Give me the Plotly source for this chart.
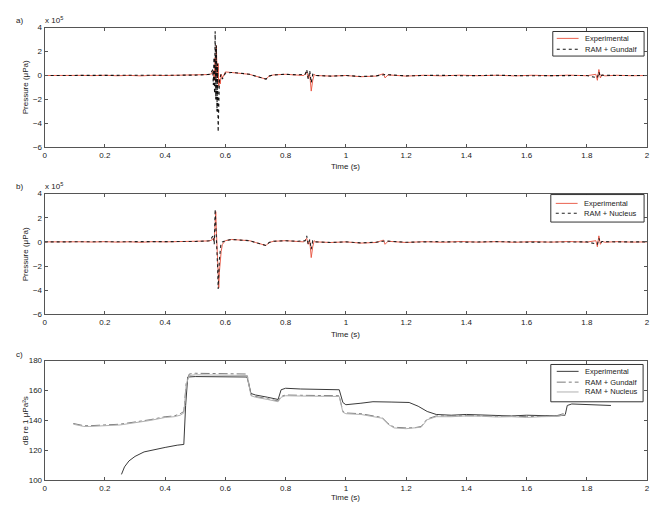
import plotly.graph_objects as go

# ---------------- data ----------------
# Panel a/b time-series (pressure in units of 1e5 uPa)
t_exp_a = [0.00, 0.04, 0.08, 0.12, 0.16, 0.20, 0.24, 0.28, 0.32, 0.36, 0.40, 0.44, 0.48, 0.52, 0.545,
           0.555, 0.560, 0.563, 0.566, 0.568, 0.570, 0.572, 0.574, 0.576, 0.578, 0.580, 0.583, 0.586,
           0.590, 0.600, 0.620, 0.650, 0.680, 0.700, 0.720, 0.735, 0.745, 0.760, 0.800, 0.840, 0.860,
           0.870, 0.875, 0.880, 0.885, 0.890, 0.895, 0.900, 0.950, 1.000, 1.050, 1.100, 1.125, 1.130,
           1.140, 1.200, 1.260, 1.320, 1.380, 1.440, 1.500, 1.560, 1.620, 1.680, 1.740, 1.800, 1.830,
           1.835, 1.840, 1.845, 1.850, 1.860, 1.900, 1.950, 2.000]
p_exp_a = [0.00, 0.02, -0.02, 0.01, -0.01, 0.02, -0.02, 0.01, -0.03, 0.02, 0.00, 0.03, 0.04, 0.05, 0.08,
           0.15, 0.40, -0.40, 1.50, -0.30, 2.50, 0.60, -0.20, 1.00, -0.90, -0.30, -0.70, 0.10,
           -0.20, 0.30, 0.25, 0.20, 0.10, -0.05, -0.20, -0.30, -0.05, 0.05, 0.10, 0.05, 0.00,
           0.30, -0.20, 0.10, -1.30, -0.40, 0.10, 0.00, -0.05, 0.00, -0.10, -0.05, 0.15, -0.20,
           0.05, -0.05, 0.02, -0.03, 0.03, -0.02, 0.02, -0.03, 0.02, -0.02, 0.03, -0.02, 0.10,
           -0.40, 0.50, -0.20, 0.05, -0.03, 0.02, -0.02, 0.00]

t_gun = [0.00, 0.05, 0.10, 0.15, 0.20, 0.25, 0.30, 0.35, 0.40, 0.45, 0.50, 0.54, 0.550, 0.556, 0.558,
         0.560, 0.562, 0.564, 0.566, 0.568, 0.570, 0.572, 0.574, 0.576, 0.578, 0.580, 0.585, 0.590,
         0.600, 0.620, 0.650, 0.680, 0.700, 0.720, 0.735, 0.745, 0.760, 0.800, 0.840, 0.865, 0.870,
         0.875, 0.880, 0.885, 0.890, 0.900, 0.950, 1.000, 1.050, 1.100, 1.130, 1.200, 1.300, 1.400,
         1.500, 1.600, 1.700, 1.800, 1.835, 1.840, 1.845, 1.850, 1.900, 2.000]
p_gun = [0.00, 0.00, 0.01, 0.00, -0.01, 0.00, 0.01, 0.00, 0.01, 0.02, 0.03, 0.08, 0.10, 0.40, 0.50,
         -0.80, 1.50, -1.50, 3.70, -2.00, 2.50, -3.00, 1.00, -4.70, -2.50, -0.50, 0.10, -0.30,
         0.20, 0.25, 0.20, 0.10, -0.05, -0.20, -0.30, -0.05, 0.05, 0.10, 0.05, 0.10, 0.50,
         -0.30, 0.40, -0.60, 0.10, 0.00, -0.05, 0.00, -0.08, -0.03, 0.08, -0.03, 0.02, -0.02,
         0.02, -0.02, 0.02, 0.00, -0.20, 0.30, -0.10, 0.03, 0.00, 0.00]

t_exp_b = [0.00, 0.04, 0.08, 0.12, 0.16, 0.20, 0.24, 0.28, 0.32, 0.36, 0.40, 0.44, 0.48, 0.52, 0.545,
           0.555, 0.560, 0.563, 0.566, 0.568, 0.570, 0.572, 0.575, 0.578, 0.580, 0.583, 0.586, 0.590,
           0.600, 0.620, 0.650, 0.680, 0.700, 0.720, 0.735, 0.745, 0.760, 0.800, 0.840, 0.860, 0.870,
           0.875, 0.880, 0.885, 0.890, 0.895, 0.900, 0.950, 1.000, 1.050, 1.100, 1.125, 1.130, 1.140,
           1.200, 1.260, 1.320, 1.380, 1.440, 1.500, 1.560, 1.620, 1.680, 1.740, 1.800, 1.830, 1.835,
           1.840, 1.845, 1.850, 1.860, 1.900, 1.950, 2.000]
p_exp_b = [0.00, 0.02, -0.02, 0.01, -0.01, 0.02, -0.02, 0.01, -0.03, 0.02, 0.00, 0.03, 0.04, 0.05, 0.08,
           0.15, 0.30, 0.10, 1.50, 2.50, 1.00, -0.50, -2.50, -3.80, -2.50, -1.50, -0.80, -0.20,
           0.10, 0.20, 0.15, 0.10, -0.05, -0.20, -0.30, -0.05, 0.05, 0.10, 0.05, 0.00, 0.30,
           -0.20, 0.10, -1.30, -0.40, 0.10, 0.00, -0.05, 0.00, -0.10, -0.05, 0.15, -0.20, 0.05,
           -0.05, 0.02, -0.03, 0.03, -0.02, 0.02, -0.03, 0.02, -0.02, 0.03, -0.02, 0.10, -0.40,
           0.50, -0.20, 0.05, -0.03, 0.02, -0.02, 0.00]

t_nuc = [0.00, 0.05, 0.10, 0.15, 0.20, 0.25, 0.30, 0.35, 0.40, 0.45, 0.50, 0.54, 0.550, 0.556, 0.560,
         0.563, 0.566, 0.568, 0.570, 0.572, 0.574, 0.576, 0.578, 0.580, 0.585, 0.590, 0.600, 0.620,
         0.650, 0.680, 0.700, 0.720, 0.735, 0.745, 0.760, 0.800, 0.840, 0.865, 0.870, 0.875, 0.880,
         0.885, 0.890, 0.900, 0.950, 1.000, 1.050, 1.100, 1.130, 1.200, 1.300, 1.400, 1.500, 1.600,
         1.700, 1.800, 1.835, 1.840, 1.845, 1.850, 1.900, 2.000]
p_nuc = [0.00, 0.00, 0.01, 0.00, -0.01, 0.00, 0.01, 0.00, 0.01, 0.02, 0.03, 0.08, 0.10, 0.40, 0.50,
         -0.20, 2.70, 1.50, 0.50, -1.00, -2.00, -3.90, -2.80, -1.50, -0.20, 0.00, 0.10, 0.20,
         0.15, 0.10, -0.05, -0.20, -0.30, -0.05, 0.05, 0.10, 0.05, 0.10, 0.50, -0.20, 0.20,
         -0.60, 0.10, 0.00, -0.05, 0.00, -0.08, -0.03, 0.08, -0.03, 0.02, -0.02, 0.02, -0.02,
         0.02, 0.00, -0.20, 0.30, -0.10, 0.03, 0.00, 0.00]

# Panel c: sound exposure level (dB re 1 uPa^2 s)
t_sel_exp = [0.255, 0.265, 0.28, 0.30, 0.33, 0.36, 0.40, 0.44, 0.462, 0.468, 0.475, 0.50, 0.55, 0.60,
             0.65, 0.672, 0.685, 0.70, 0.74, 0.775, 0.785, 0.80, 0.85, 0.90, 0.95, 0.978, 0.99,
             1.00, 1.05, 1.09, 1.15, 1.21, 1.24, 1.27, 1.30, 1.35, 1.40, 1.45, 1.50, 1.55, 1.60,
             1.65, 1.70, 1.728, 1.735, 1.75, 1.80, 1.85, 1.88]
db_exp = [104.0, 109.0, 113.0, 116.0, 119.0, 120.5, 122.0, 123.5, 124.0, 150.0, 169.0, 169.3, 169.3, 169.3,
          169.3, 169.0, 158.0, 157.0, 155.5, 154.0, 160.5, 161.5, 161.0, 160.8, 160.7, 160.5, 152.0,
          150.5, 151.5, 152.5, 152.3, 152.0, 149.5, 146.0, 144.0, 143.5, 144.0, 143.8, 143.5, 143.0, 143.5,
          143.2, 143.0, 143.5, 150.0, 151.0, 150.8, 150.5, 150.0]

t_sel_gun = [0.095, 0.11, 0.13, 0.15, 0.20, 0.25, 0.30, 0.35, 0.40, 0.43, 0.45, 0.462, 0.47, 0.48, 0.50,
             0.55, 0.60, 0.65, 0.672, 0.685, 0.70, 0.74, 0.775, 0.785, 0.80, 0.85, 0.90, 0.95, 0.978,
             0.99, 1.00, 1.05, 1.09, 1.12, 1.14, 1.16, 1.20, 1.23, 1.25, 1.27, 1.30, 1.35, 1.40,
             1.45, 1.50, 1.55, 1.60, 1.65, 1.70, 1.73]
db_gun = [138.0, 137.5, 136.5, 136.5, 137.0, 137.5, 139.0, 140.5, 142.5, 143.0, 144.5, 146.0, 165.0, 171.0, 171.5,
          171.5, 171.5, 171.3, 171.0, 157.0, 156.0, 154.5, 153.0, 156.0, 157.0, 156.8, 156.5, 156.5, 156.5,
          146.0, 145.0, 144.5, 143.0, 142.0, 138.0, 135.5, 135.0, 135.2, 136.0, 141.0, 143.0, 143.0, 143.5,
          143.2, 142.8, 143.0, 142.5, 143.0, 143.2, 145.0]

t_sel_nuc = [0.095, 0.11, 0.13, 0.15, 0.20, 0.25, 0.30, 0.35, 0.40, 0.43, 0.45, 0.462, 0.47, 0.48, 0.50,
             0.55, 0.60, 0.65, 0.672, 0.685, 0.70, 0.74, 0.775, 0.785, 0.80, 0.85, 0.90, 0.95, 0.978,
             0.99, 1.00, 1.05, 1.09, 1.12, 1.14, 1.16, 1.20, 1.23, 1.25, 1.27, 1.30, 1.35, 1.40,
             1.45, 1.50, 1.55, 1.60, 1.65, 1.70, 1.73]
db_nuc = [137.5, 137.0, 136.0, 136.0, 136.5, 137.0, 138.5, 140.0, 142.0, 142.5, 143.5, 145.0, 164.0, 170.0, 170.5,
          170.5, 170.5, 170.3, 170.0, 156.5, 155.5, 154.0, 152.5, 155.5, 156.5, 156.3, 156.0, 156.0, 156.0,
          145.5, 144.5, 144.0, 142.5, 141.5, 137.5, 135.0, 134.5, 134.8, 135.5, 140.5, 142.5, 142.5, 143.0,
          142.8, 142.3, 142.5, 142.0, 142.5, 142.7, 144.0]

x_ticks = [0, 0.2, 0.4, 0.6, 0.8, 1, 1.2, 1.4, 1.6, 1.8, 2]
x_tick_text = ["0", "0.2", "0.4", "0.6", "0.8", "1", "1.2", "1.4", "1.6", "1.8", "2"]
p_ticks = [-6, -4, -2, 0, 2, 4]
db_ticks = [100, 120, 140, 160, 180]

legend_a = ["Experimental", "RAM + Gundalf"]
legend_b = ["Experimental", "RAM + Nucleus"]
legend_c = ["Experimental", "RAM + Gundalf", "RAM + Nucleus"]

# ---------------- figure ----------------
W, H = 659, 506
FONT = "Liberation Sans, Arial, sans-serif"
RED = "#e8503c"
AXC = "#555555"
C_EXP = "#3a3a3a"
C_GUN = "#7a7a7a"
C_NUC = "#b0b0b0"


def py(px):
    return 1 - px / H


def px_x(px):
    return px / W


xdom = [px_x(43), px_x(650)]
ydoms = [[py(146), py(24)], [py(316), py(193)], [py(485), py(363)]]

fig = go.Figure()

sty_exp_ab = dict(color=RED, width=0.9)
sty_gun_ab = dict(color="#111111", width=1.1, dash="dot")
sty_nuc_ab = dict(color="#222222", width=1.1, dash="dot")
sty_exp_c = dict(color=C_EXP, width=1)
sty_gun_c = dict(color=C_GUN, width=1, dash="dashdot")
sty_nuc_c = dict(color=C_NUC, width=1)

fig.add_trace(go.Scatter(x=t_exp_a, y=p_exp_a, mode="lines", name=legend_a[0],
                         line=sty_exp_ab, xaxis="x", yaxis="y"))
fig.add_trace(go.Scatter(x=t_gun, y=p_gun, mode="lines", name=legend_a[1],
                         line=sty_gun_ab, xaxis="x", yaxis="y"))
fig.add_trace(go.Scatter(x=t_exp_b, y=p_exp_b, mode="lines", name=legend_b[0],
                         line=sty_exp_ab, xaxis="x2", yaxis="y2"))
fig.add_trace(go.Scatter(x=t_nuc, y=p_nuc, mode="lines", name=legend_b[1],
                         line=sty_nuc_ab, xaxis="x2", yaxis="y2"))
fig.add_trace(go.Scatter(x=t_sel_exp, y=db_exp, mode="lines", name=legend_c[0],
                         line=sty_exp_c, xaxis="x3", yaxis="y3"))
fig.add_trace(go.Scatter(x=t_sel_gun, y=db_gun, mode="lines", name=legend_c[1],
                         line=sty_gun_c, xaxis="x3", yaxis="y3"))
fig.add_trace(go.Scatter(x=t_sel_nuc, y=db_nuc, mode="lines", name=legend_c[2],
                         line=sty_nuc_c, xaxis="x3", yaxis="y3"))

axis_common = dict(showline=True, linecolor=AXC, linewidth=1, mirror="ticks", ticks="inside",
                   ticklen=3, tickcolor=AXC, showgrid=False, zeroline=False,
                   tickfont=dict(family=FONT, size=8, color="#222"))

for i in range(3):
    sfx = "" if i == 0 else str(i + 1)
    fig.update_layout(**{
        "xaxis" + sfx: dict(axis_common, domain=xdom, range=[0, 2], tickvals=x_ticks,
                            ticktext=x_tick_text, anchor="y" + sfx),
    })
    if i < 2:
        fig.update_layout(**{"yaxis" + sfx: dict(axis_common, domain=ydoms[i], range=[-6, 4],
                                                 tickvals=p_ticks, anchor="x" + sfx)})
    else:
        fig.update_layout(**{"yaxis" + sfx: dict(axis_common, domain=ydoms[i], range=[100, 180],
                                                 tickvals=db_ticks, anchor="x" + sfx)})

fig.update_layout(showlegend=False, width=W, height=H,
                  margin=dict(l=0, r=0, t=0, b=0),
                  paper_bgcolor="white", plot_bgcolor="white")

ann = []
shapes = []


def A(x, y, text, angle=0, size=8, xanchor="center"):
    ann.append(dict(x=px_x(x), y=py(y), xref="paper", yref="paper", text=text, showarrow=False,
                    textangle=angle, xanchor=xanchor, yanchor="middle",
                    font=dict(family=FONT, size=size, color="#222")))


def legend_box(x0, y0, x1, y1, names, styles, rows, lx0, lx1, tx):
    shapes.append(dict(type="rect", xref="paper", yref="paper", x0=px_x(x0), x1=px_x(x1),
                       y0=py(y1), y1=py(y0), line=dict(color="#333", width=1), fillcolor="white",
                       layer="above"))
    for name, sty, ry in zip(names, styles, rows):
        shapes.append(dict(type="line", xref="paper", yref="paper", x0=px_x(lx0), x1=px_x(lx1),
                           y0=py(ry), y1=py(ry), line=sty, layer="above"))
        A(tx, ry, name, xanchor="left", size=7.5)


legend_box(555, 28, 647, 53, legend_a, [sty_exp_ab, sty_gun_ab], [35, 46], 559, 581, 585)
legend_box(553, 194, 647, 222, legend_b, [sty_exp_ab, sty_nuc_ab], [203, 213], 558, 580, 584)
legend_box(553, 367, 646, 405, legend_c, [sty_exp_c, sty_gun_c, sty_nuc_c], [374, 385, 395], 559, 581, 585)

for lab, ytop in [("a)", 17), ("b)", 186), ("c)", 357)]:
    A(18, ytop, lab, xanchor="center")
for ytop in [16, 185]:
    A(41, ytop, "x 10<sup>5</sup>", xanchor="left", size=8)
for ybase in [165, 336]:
    A(346, ybase, "Time (s)")
A(346, 502, "Time (s)")
A(24, 85, "Pressure (μPa)", angle=-90)
A(24, 255, "Pressure (μPa)", angle=-90)
A(24, 424, "dB re 1 μPa²s", angle=-90)
fig.update_layout(annotations=ann, shapes=shapes)

fig.write_html("out.html")
